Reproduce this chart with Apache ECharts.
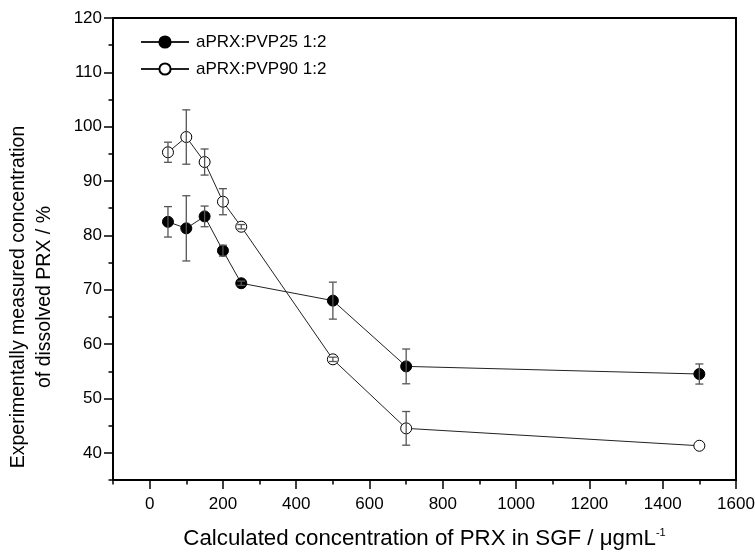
<!DOCTYPE html>
<html>
<head>
<meta charset="utf-8">
<script src="https://cdn.jsdelivr.net/npm/echarts@6/dist/echarts.min.js"></script>
<style>
html,body{margin:0;padding:0;background:#fff;}
#chart{width:755px;height:553px;}
</style>
</head>
<body>
<div id="chart"></div>
<script>
const xValues = [50, 100, 150, 200, 250, 500, 700, 1500];
const pvp25 = [82.5, 81.3, 83.5, 77.2, 71.2, 68.0, 55.9, 54.5];
const pvp25Err = [2.8, 6.0, 1.9, 1.0, 0.4, 3.4, 3.2, 1.85];
const pvp90 = [95.3, 98.1, 93.5, 86.2, 81.6, 57.2, 44.5, 41.3];
const pvp90Err = [1.85, 5.0, 2.4, 2.4, 0.4, 0.4, 3.1, 0];
const seriesNames = ['aPRX:PVP25 1:2', 'aPRX:PVP90 1:2'];
const xTitle = 'Calculated concentration of PRX in SGF / μgmL';
const xTitleSup = '-1';
const yTitle = ['Experimentally measured concentration', 'of dissolved PRX / %'];

const FONT = '"Liberation Sans", Arial, sans-serif';
const chart = echarts.init(document.getElementById('chart'), null, {renderer: 'canvas'});

const pts = (ys) => xValues.map((x, i) => [x, ys[i]]);
const errPts = (ys, es) => xValues.map((x, i) => [x, ys[i], es[i]]);

function errorRender(params, api) {
  const x = api.value(0), y = api.value(1), e = api.value(2);
  if (!e) return null;
  const top = api.coord([x, y + e]);
  const bot = api.coord([x, y - e]);
  const hw = 4;
  const st = {stroke: '#555', lineWidth: 1.3};
  return {
    type: 'group',
    children: [
      {type: 'line', shape: {x1: top[0], y1: top[1], x2: bot[0], y2: bot[1]}, style: st},
      {type: 'line', shape: {x1: top[0] - hw, y1: top[1], x2: top[0] + hw, y2: top[1]}, style: st},
      {type: 'line', shape: {x1: bot[0] - hw, y1: bot[1], x2: bot[0] + hw, y2: bot[1]}, style: st}
    ]
  };
}

const axisLine = {show: true, onZero: false, lineStyle: {color: '#000', width: 2}};
const gridAW = 755 - 113 - 19;
const gridAH = 553 - 18 - 73;
const gridA = {left: 113, right: 19, top: 18, bottom: 73, show: true, borderColor: '#000', borderWidth: 2, containLabel: false, outerBoundsMode: 'none'};
// 0 on x sits at fraction 100/1700 of width; 40 on y sits at fraction 5/85 of height
const gridB = {left: 113 + gridAW * 100 / 1700, right: 19, top: 18, bottom: 73, containLabel: false, outerBoundsMode: 'none'};
const gridC = {left: 113, right: 19, top: 18, bottom: 73 + gridAH * 5 / 85, containLabel: false, outerBoundsMode: 'none'};

const option = {
  animation: false,
  backgroundColor: '#fff',
  textStyle: {fontFamily: FONT},
  grid: [gridA, gridB, gridC],
  legend: {
    data: seriesNames,
    orient: 'vertical',
    left: 135,
    top: 27,
    itemWidth: 48,
    itemHeight: 14,
    itemGap: 7,
    textStyle: {fontFamily: FONT, fontSize: 17, color: '#000', lineHeight: 20, padding: [0, 0, 0, 2]}
  },
  xAxis: [
    {
      gridIndex: 0, type: 'value', min: -100, max: 1600, interval: 100,
      axisLine: axisLine, splitLine: {show: false},
      axisTick: {show: true, length: 4.5, lineStyle: {color: '#000', width: 1.5}},
      axisLabel: {show: false},
      name: '{a|' + xTitle + '}{s|' + xTitleSup + '}',
      nameLocation: 'middle', nameGap: 47,
      nameTextStyle: {
        color: '#000',
        rich: {
          a: {fontFamily: FONT, fontSize: 22.3, color: '#000', lineHeight: 24},
          s: {fontFamily: FONT, fontSize: 11, color: '#000', lineHeight: 12, verticalAlign: 'top'}
        }
      }
    },
    {
      gridIndex: 1, type: 'value', min: 0, max: 1600, interval: 200,
      axisLine: {show: false, onZero: false}, splitLine: {show: false},
      axisTick: {show: true, length: 9, lineStyle: {color: '#000', width: 1.5}},
      axisLabel: {show: true, fontFamily: FONT, fontSize: 17, color: '#000', margin: 16,
        formatter: (v) => String(v)}
    },
    {gridIndex: 2, type: 'value', min: -100, max: 1600, show: false, axisLine: {onZero: false}}
  ],
  yAxis: [
    {
      gridIndex: 0, type: 'value', min: 35, max: 120, interval: 5,
      axisLine: axisLine, splitLine: {show: false},
      axisTick: {show: true, length: 4.5, lineStyle: {color: '#000', width: 1.5}},
      axisLabel: {show: false}
    },
    {gridIndex: 1, type: 'value', min: 35, max: 120, show: false, axisLine: {onZero: false}},
    {
      gridIndex: 2, type: 'value', min: 40, max: 120, interval: 10,
      axisLine: {show: false, onZero: false}, splitLine: {show: false},
      axisTick: {show: true, length: 9, lineStyle: {color: '#000', width: 1.5}},
      axisLabel: {show: true, fontFamily: FONT, fontSize: 17, color: '#000', margin: 11,
        formatter: (v) => String(v)}
    }
  ],
  graphic: [{
    type: 'text',
    x: 32, y: 297,
    rotation: Math.PI / 2,
    style: {
      text: yTitle.join('\n'),
      fontFamily: FONT, fontSize: 19.5, lineHeight: 26,
      fill: '#000', align: 'center', verticalAlign: 'middle'
    }
  }],
  series: [
    {
      name: seriesNames[0], type: 'line', xAxisIndex: 0, yAxisIndex: 0,
      data: pts(pvp25), symbol: 'circle', symbolSize: 11,
      lineStyle: {color: '#222', width: 1},
      itemStyle: {color: '#000', borderColor: '#000', borderWidth: 1},
      z: 2
    },
    {
      name: seriesNames[1], type: 'line', xAxisIndex: 0, yAxisIndex: 0,
      data: pts(pvp90), symbol: 'circle', symbolSize: 11,
      lineStyle: {color: '#222', width: 1},
      itemStyle: {color: '#fff', borderColor: '#000', borderWidth: 1},
      z: 2
    },
    {
      type: 'custom', xAxisIndex: 0, yAxisIndex: 0, renderItem: errorRender,
      data: errPts(pvp25, pvp25Err), z: 3, silent: true
    },
    {
      type: 'custom', xAxisIndex: 0, yAxisIndex: 0, renderItem: errorRender,
      data: errPts(pvp90, pvp90Err), z: 3, silent: true
    }
  ]
};
chart.setOption(option);
</script>
</body>
</html>
